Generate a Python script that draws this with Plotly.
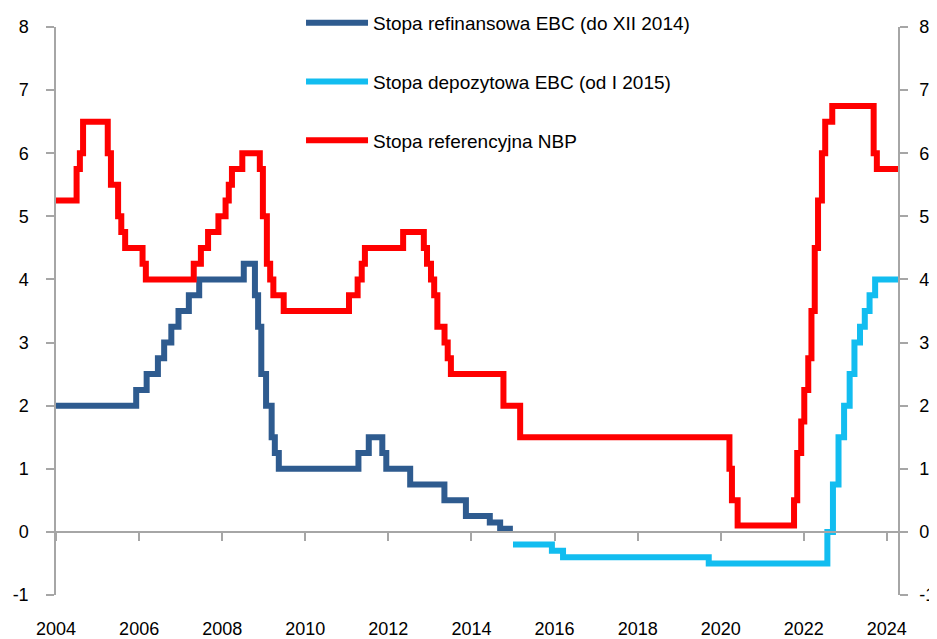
import plotly.graph_objects as go

# ECB main refinancing rate (until XII 2014) - change dates and levels
ecb_ref_dates = ['2004-01-01', '2005-12-06', '2006-03-08', '2006-06-15', '2006-08-09',
                 '2006-10-11', '2006-12-13', '2007-03-14', '2007-06-13', '2008-07-09',
                 '2008-10-15', '2008-11-12', '2008-12-10', '2009-01-21', '2009-03-11',
                 '2009-04-08', '2009-05-13', '2011-04-13', '2011-07-13', '2011-11-09',
                 '2011-12-14', '2012-07-11', '2013-05-08', '2013-11-13', '2014-06-11',
                 '2014-09-10', '2014-12-31']
ecb_ref_vals = [2.0, 2.25, 2.5, 2.75, 3.0, 3.25, 3.5, 3.75, 4.0, 4.25,
                3.75, 3.25, 2.5, 2.0, 1.5, 1.25, 1.0, 1.25, 1.5, 1.25,
                1.0, 0.75, 0.5, 0.25, 0.15, 0.05, 0.05]

# ECB deposit rate (from I 2015)
ecb_dep_dates = ['2015-01-01', '2015-12-09', '2016-03-16', '2019-09-18', '2022-07-27',
                 '2022-09-14', '2022-11-02', '2022-12-21', '2023-02-08', '2023-03-22',
                 '2023-05-10', '2023-06-21', '2023-08-02', '2023-09-20', '2024-04-08']
ecb_dep_vals = [-0.2, -0.3, -0.4, -0.5, 0.0, 0.75, 1.5, 2.0, 2.5, 3.0,
                3.25, 3.5, 3.75, 4.0, 4.0]

# NBP reference rate
nbp_dates = ['2004-01-01', '2004-06-30', '2004-07-29', '2004-08-26', '2005-03-31',
             '2005-04-28', '2005-06-30', '2005-07-28', '2005-08-31', '2006-01-31',
             '2006-03-01', '2007-04-26', '2007-06-28', '2007-08-30', '2007-11-29',
             '2008-01-31', '2008-02-28', '2008-03-27', '2008-06-26', '2008-11-27',
             '2008-12-24', '2009-01-28', '2009-02-26', '2009-03-26', '2009-06-25',
             '2011-01-20', '2011-04-06', '2011-05-12', '2011-06-09', '2012-05-10',
             '2012-11-08', '2012-12-06', '2013-01-10', '2013-02-07', '2013-03-07',
             '2013-05-09', '2013-06-06', '2013-07-04', '2014-10-09', '2015-03-05',
             '2020-03-18', '2020-04-09', '2020-05-29', '2021-10-07', '2021-11-04',
             '2021-12-09', '2022-01-05', '2022-02-09', '2022-03-09', '2022-04-07',
             '2022-05-06', '2022-06-09', '2022-07-08', '2022-09-08', '2023-09-07',
             '2023-10-05', '2024-04-08']
nbp_vals = [5.25, 5.75, 6.0, 6.5, 6.0, 5.5, 5.0, 4.75, 4.5, 4.25,
            4.0, 4.25, 4.5, 4.75, 5.0, 5.25, 5.5, 5.75, 6.0, 5.75,
            5.0, 4.25, 4.0, 3.75, 3.5, 3.75, 4.0, 4.25, 4.5, 4.75,
            4.5, 4.25, 4.0, 3.75, 3.25, 3.0, 2.75, 2.5, 2.0, 1.5,
            1.0, 0.5, 0.1, 0.5, 1.25, 1.75, 2.25, 2.75, 3.5, 4.5,
            5.25, 6.0, 6.5, 6.75, 6.0, 5.75, 5.75]

y_ticks = [-1, 0, 1, 2, 3, 4, 5, 6, 7, 8]
y_tick_labels = ['-1', '0', '1', '2', '3', '4', '5', '6', '7', '8']

x_range = ['2004-01-01', '2024-04-08']
y_range = [-1, 8]
grey = '#A6A6A6'
fam = 'Liberation Sans, Arial, sans-serif'
tick_font = dict(family=fam, size=18, color='#000000')
legend_font = dict(family=fam, size=19, color='#000000')

# the page body adds an 8px offset, so the figure is 8px smaller each way
fig_w, fig_h = 929, 631

fig = go.Figure()
fig.add_trace(go.Scatter(x=ecb_ref_dates, y=ecb_ref_vals, mode='lines', line_shape='hv',
                         line=dict(color='#2E5B8F', width=6),
                         name='Stopa refinansowa EBC (do XII 2014)', legendgroup='a'))
fig.add_trace(go.Scatter(x=ecb_dep_dates, y=ecb_dep_vals, mode='lines', line_shape='hv',
                         line=dict(color='#12BDF0', width=6),
                         name='Stopa depozytowa EBC (od I 2015)', legendgroup='b'))
fig.add_trace(go.Scatter(x=nbp_dates, y=nbp_vals, mode='lines', line_shape='hv',
                         line=dict(color='#FF0000', width=6), xaxis='x2', yaxis='y2',
                         name='Stopa referencyjna NBP', legendgroup='c'))

axis_common = dict(showgrid=False, zeroline=False, showline=True, linecolor=grey,
                   linewidth=1.5, ticks='outside', ticklen=8, tickcolor=grey,
                   tickwidth=1.5, automargin=False)

fig.update_layout(
    width=fig_w, height=fig_h,
    margin=dict(l=48, r=39, t=19, b=44, autoexpand=False),
    plot_bgcolor='white', paper_bgcolor='white',
    font=tick_font,
    showlegend=True,
    legend=dict(x=0.291, y=1.0405, xanchor='left', yanchor='top',
                traceorder='grouped', tracegroupgap=31, itemwidth=62,
                font=legend_font, bgcolor='rgba(0,0,0,0)'),
    # bottom axis: only year labels
    xaxis=dict(type='date', range=x_range, dtick='M24', tick0='2004-01-01',
               tickformat='%Y', showgrid=False, zeroline=False, showline=False,
               ticks='', ticklabelstandoff=21, tickfont=tick_font, automargin=False),
    # axis line crossing at y = 0, with tick marks
    xaxis2=dict(type='date', matches='x', overlaying='x', anchor='free',
                position=(0 - y_range[0]) / (y_range[1] - y_range[0]),
                dtick='M24', tick0='2004-01-01',
                showticklabels=False, **axis_common),
    yaxis=dict(range=y_range, tickvals=y_ticks, ticktext=y_tick_labels,
               ticklabelstandoff=14, tickfont=tick_font, **axis_common),
    yaxis2=dict(range=y_range, matches='y', overlaying='y', side='right', anchor='x',
                tickvals=y_ticks, ticktext=y_tick_labels,
                ticklabelstandoff=8, tickfont=tick_font, **axis_common),
)

fig.write_html("out.html")
